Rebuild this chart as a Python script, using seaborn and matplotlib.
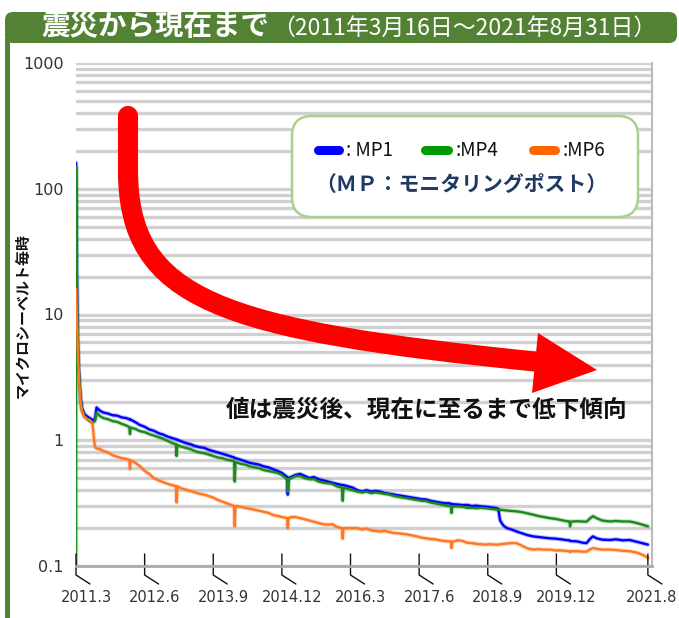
import numpy as np
import pandas as pd
import seaborn as sns
import matplotlib.pyplot as plt
from matplotlib.patches import FancyBboxPatch, PathPatch, Polygon, Rectangle
from matplotlib.path import Path
from matplotlib.lines import Line2D
from matplotlib.ticker import LogLocator, NullFormatter
from matplotlib.transforms import Affine2D, blended_transform_factory

W, H = 679, 618

# months since 2011-03-16
months = [0.00, 0.02, 0.10, 0.30, 0.50, 0.75, 1.00, 1.30, 1.80, 2.40, 3.00, 3.60, 3.90, 4.15,
          4.50, 5.20, 6.0, 7.0, 8.0, 9.0, 10.0, 11.0, 11.65, 11.80, 11.95, 13.0, 14.0, 15.0,
          16.0, 17.0, 18.0, 19.0, 20.0, 21.0, 21.85, 22.00, 22.15, 23.0, 24.0, 25.0, 26.0,
          27.0, 28.0, 29.0, 30.0, 31.0, 32.0, 33.0, 34.0, 34.55, 34.70, 34.85, 36.0, 37.0,
          38.0, 39.0, 40.0, 41.0, 42.0, 43.0, 44.0, 45.0, 46.15, 46.30, 46.45, 47.0, 48.0,
          49.0, 50.0, 51.0, 52.0, 53.0, 54.0, 55.0, 56.0, 57.0, 58.15, 58.30, 58.45, 59.5,
          60.5, 61.5, 62.5, 63.5, 64.5, 65.5, 66.5, 67.5, 68.5, 69.5, 70.5, 71.5, 72.5, 73.5,
          74.5, 75.5, 76.5, 77.5, 78.5, 79.5, 80.5, 81.5, 81.95, 82.10, 82.25, 83.5, 84.5,
          85.5, 86.5, 87.5, 88.5, 89.5, 90.5, 91.5, 92.3, 92.7, 93.4, 94.2, 95.2, 96.3, 97.5,
          98.7, 99.9, 101.0, 102.3, 103.6, 104.8, 106.0, 107.0, 107.85, 108.0, 108.15, 109.5,
          110.8, 111.6, 112.4, 113.0, 113.8, 115.0, 116.7, 118.0, 119.5, 121.0, 122.5, 124.0,
          125.0]

mp1 = [161, 150, 40, 9.0, 4.5, 3.0, 2.2, 1.80, 1.62, 1.55, 1.50, 1.46, 1.44, 1.47,
       1.82, 1.72, 1.66, 1.63, 1.58, 1.57, 1.52, 1.50, 1.47, 1.45, 1.46, 1.39, 1.32, 1.28,
       1.22, 1.19, 1.14, 1.11, 1.07, 1.04, 1.02, 1.01, 1.01, 0.98, 0.95, 0.93, 0.90,
       0.88, 0.87, 0.84, 0.82, 0.80, 0.78, 0.76, 0.74, 0.73, 0.72, 0.72, 0.70, 0.68,
       0.66, 0.65, 0.64, 0.62, 0.61, 0.59, 0.57, 0.55, 0.51, 0.37, 0.50, 0.51, 0.53,
       0.54, 0.52, 0.50, 0.51, 0.49, 0.48, 0.47, 0.46, 0.45, 0.44, 0.44, 0.44, 0.43,
       0.42, 0.40, 0.39, 0.40, 0.39, 0.395, 0.39, 0.38, 0.375, 0.37, 0.365, 0.36, 0.355, 0.35,
       0.345, 0.34, 0.338, 0.33, 0.325, 0.32, 0.316, 0.315, 0.313, 0.31, 0.31, 0.308, 0.305,
       0.306, 0.30, 0.302, 0.298, 0.296, 0.293, 0.29, 0.285, 0.23, 0.21, 0.20, 0.195, 0.188, 0.182,
       0.176, 0.172, 0.17, 0.168, 0.166, 0.165, 0.163, 0.161, 0.16, 0.158, 0.158, 0.157,
       0.153, 0.152, 0.165, 0.172, 0.166, 0.162, 0.161, 0.163, 0.16, 0.161, 0.156, 0.151,
       0.148]

mp4 = [0.1, 150, 38, 9.0, 4.4, 2.9, 2.1, 1.75, 1.55, 1.48, 1.42, 1.38, 1.40, 1.42,
       1.66, 1.56, 1.50, 1.47, 1.42, 1.40, 1.35, 1.31, 1.27, 1.12, 1.26, 1.23, 1.18, 1.16,
       1.12, 1.09, 1.06, 1.03, 0.99, 0.95, 0.93, 0.75, 0.92, 0.89, 0.87, 0.85, 0.82,
       0.80, 0.79, 0.77, 0.75, 0.73, 0.72, 0.70, 0.69, 0.68, 0.47, 0.67, 0.65, 0.64,
       0.62, 0.61, 0.60, 0.58, 0.57, 0.56, 0.55, 0.53, 0.49, 0.39, 0.49, 0.50, 0.52,
       0.52, 0.50, 0.49, 0.49, 0.47, 0.46, 0.455, 0.45, 0.43, 0.42, 0.33, 0.42, 0.41,
       0.40, 0.39, 0.385, 0.39, 0.38, 0.385, 0.38, 0.375, 0.37, 0.36, 0.355, 0.35, 0.345, 0.34,
       0.335, 0.33, 0.328, 0.32, 0.315, 0.31, 0.305, 0.30, 0.298, 0.264, 0.298, 0.298, 0.296,
       0.29, 0.29, 0.288, 0.29, 0.288, 0.285, 0.282, 0.28, 0.28, 0.278, 0.276, 0.274, 0.272, 0.268,
       0.262, 0.256, 0.25, 0.245, 0.24, 0.237, 0.232, 0.228, 0.226, 0.207, 0.225, 0.227,
       0.226, 0.225, 0.24, 0.249, 0.24, 0.23, 0.226, 0.228, 0.226, 0.226, 0.22, 0.212,
       0.207]

mp6 = [16, 15, 12, 7.0, 4.0, 2.7, 2.0, 1.70, 1.55, 1.48, 1.45, 1.36, 1.05, 0.88,
       0.86, 0.85, 0.82, 0.80, 0.76, 0.74, 0.72, 0.71, 0.70, 0.59, 0.69, 0.66, 0.62, 0.57,
       0.54, 0.50, 0.48, 0.465, 0.45, 0.44, 0.43, 0.32, 0.43, 0.415, 0.405, 0.395, 0.385,
       0.375, 0.37, 0.36, 0.35, 0.335, 0.325, 0.315, 0.305, 0.30, 0.207, 0.30, 0.295, 0.29,
       0.285, 0.28, 0.275, 0.27, 0.265, 0.255, 0.25, 0.245, 0.24, 0.20, 0.24, 0.245, 0.245,
       0.24, 0.235, 0.23, 0.225, 0.22, 0.215, 0.213, 0.215, 0.205, 0.20, 0.165, 0.20, 0.20,
       0.20, 0.20, 0.195, 0.198, 0.192, 0.19, 0.188, 0.19, 0.186, 0.183, 0.182, 0.18, 0.178, 0.175,
       0.172, 0.168, 0.166, 0.164, 0.163, 0.16, 0.158, 0.157, 0.157, 0.139, 0.156, 0.16, 0.158,
       0.153, 0.152, 0.15, 0.149, 0.148, 0.149, 0.148, 0.148, 0.149, 0.15, 0.151, 0.152, 0.152, 0.145,
       0.138, 0.135, 0.136, 0.135, 0.135, 0.133, 0.133, 0.132, 0.131, 0.129, 0.131, 0.131,
       0.13, 0.13, 0.136, 0.139, 0.137, 0.135, 0.135, 0.134, 0.132, 0.131, 0.128, 0.122,
       0.116]

sites = ['MP1', 'MP4', 'MP6']
colors = ['#0000ff', '#1a8a1a', '#ff7722']
tick_months = [0, 15, 30, 45, 60, 75, 90, 105, 125]
tick_labels = ['2011.3', '2012.6', '2013.9', '2014.12', '2016.3', '2017.6', '2018.9', '2019.12', '2021.8']
y_ticks = [0.1, 1, 10, 100, 1000]
y_tick_labels = ['0.1', '1', '10', '100', '1000']

df = pd.DataFrame({
    'month': months * 3,
    'value': mp1 + mp4 + mp6,
    'site': [s for s in sites for _ in months],
})

sns.set_style('white')
plt.rcParams['font.family'] = ['Noto Sans CJK JP', 'DejaVu Sans']

fig = plt.figure(figsize=(W / 100, H / 100), dpi=100)
ax = fig.add_axes([76 / W, 1 - 566 / H, 576 / W, 503 / H])
px = Affine2D().scale(1 / W, -1 / H).translate(0, 1) + fig.transFigure

pal = dict(zip(sites, colors))
sns.lineplot(data=df, x='month', y='value', hue='site', hue_order=sites, palette=pal,
             lw=3.2, alpha=0.25, legend=False, ax=ax, estimator=None)
sns.lineplot(data=df, x='month', y='value', hue='site', hue_order=sites, palette=pal,
             lw=1.7, legend=False, ax=ax, estimator=None)

ax.set_yscale('log')
ax.set_ylim(0.1, 1000)
ax.set_xlim(0, 125.9)
ax.set_yticks(y_ticks)
ax.set_yticklabels(y_tick_labels, family='DejaVu Sans')
ax.yaxis.set_minor_locator(LogLocator(base=10, subs=range(2, 10)))
ax.yaxis.set_minor_formatter(NullFormatter())
ax.grid(which='both', axis='y', color='#d0d0d0', lw=2.4)
ax.tick_params(axis='y', which='both', length=0, pad=9, labelsize=11.5, labelcolor='#333333')
ax.set_xticks([])
ax.set_xticks(np.arange(0, 126, 5), minor=True)
ax.tick_params(axis='x', which='minor', direction='in', length=5, width=0.8, color='#888888')
ax.set_xlabel('')
ax.set_ylabel('')
for s in ['left', 'top']:
    ax.spines[s].set_visible(False)
ax.spines['bottom'].set_color('#aaaaaa')
ax.spines['bottom'].set_linewidth(2)
ax.spines['right'].set_color('#bbbbbb')
ax.spines['right'].set_linewidth(1.5)

# date ticks with slanted leaders
tr = blended_transform_factory(ax.transData, ax.transAxes)
mpp = 125.9 / 576
for i, (m, lab) in enumerate(zip(tick_months, tick_labels)):
    ax.plot([m, m, m + 14 * mpp], [0.0239, -0.0179, -0.0358], transform=tr,
            color='#111111', lw=1, clip_on=False)
    off = 4 if i == len(tick_months) - 1 else 10
    ax.text(m + off * mpp, -0.0636, lab, transform=tr, ha='center', va='center',
            fontsize=10.5, color='#333333', family='DejaVu Sans')

fig.text(22, 315, 'マイクロシーベルト毎時', transform=px, rotation=90, ha='center', va='center',
         fontsize=10.8, fontweight='bold', color='#111111')

# title banner
green = '#548235'
fig.add_artist(Rectangle((5, 38), 4.5, 580, transform=px, fc=green, ec='none'))
fig.add_artist(FancyBboxPatch((5, 12), 672, 31, boxstyle='round,pad=0,rounding_size=8',
                              transform=px, fc=green, ec='none'))
fig.text(41, 27, '震災から現在まで', transform=px, ha='left', va='center', fontsize=20.5,
         fontweight='bold', color='white')
fig.text(272, 28, '（2011年3月16日～2021年8月31日）', transform=px, ha='left', va='center',
         fontsize=16.5, color='white')

# red arrow
arrow = Path([(128, 116), (128, 170), (128, 300), (220, 330), (540, 362)],
             [Path.MOVETO, Path.LINETO, Path.CURVE4, Path.CURVE4, Path.CURVE4])
fig.add_artist(PathPatch(arrow, transform=px, fill=False, ec='#ff0000', lw=14.5,
                         capstyle='round'))
fig.add_artist(Polygon([(538, 333), (597, 370), (532, 393)], closed=True, transform=px,
                       fc='#ff0000', ec='none'))

fig.text(427, 410, '値は震災後、現在に至るまで低下傾向', transform=px, ha='center', va='center',
         fontsize=17, fontweight='bold', color='#111111')

# legend box
fig.add_artist(FancyBboxPatch((292, 116), 346, 101, boxstyle='round,pad=0,rounding_size=20',
                              transform=px, fc='white', ec='#a9d18e', lw=1.8))
pill_x = [(317.5, 338.5), (424.5, 447.5), (532.5, 554.5)]
leg_cols = ['#0000ff', '#009900', '#ff6600']
leg_txt = [': MP1', ':MP4', ':MP6']
for (x0, x1), c, t in zip(pill_x, leg_cols, leg_txt):
    fig.add_artist(Line2D([x0, x1], [150, 150], transform=px, color=c, lw=6.5,
                          solid_capstyle='round'))
    fig.text(x1 + 8, 151, t, transform=px, ha='left', va='center', fontsize=13.5,
             color='#111111')
fig.text(461, 184, '（ＭＰ：モニタリングポスト）', transform=px, ha='center', va='center',
         fontsize=15, fontweight='bold', color='#1f3864')

fig.savefig('out.png', dpi=100)
